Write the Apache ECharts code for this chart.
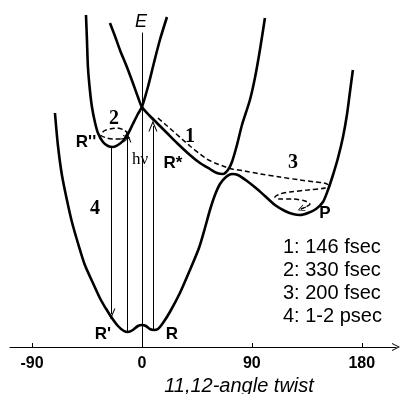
<!DOCTYPE html>
<html><head><meta charset="utf-8">
<script src="https://cdn.jsdelivr.net/npm/echarts@6/dist/echarts.min.js"></script>
<style>html,body{margin:0;padding:0;background:#fff}#c{width:401px;height:394px}</style>
</head><body><div id="c"></div>
<script>
// 11,12-angle twist (degrees) and energy (arbitrary units)
const groundAngle = [-71.2,-68.8,-65.5,-61.4,-57.3,-52.4,-46.7,-40.1,-33.6,-26.2,-19.6,-14.7,-11.5,-7.4,-3.3,0,3.3,6.5,9.8,13.1,17.2,22.9,31.1,39.3,46.7,51.6,55.7,59.8,63.9,68.8,73.7,78.6,86.0,93.3,100.7,108.9,117.1,123.6,129.4,135.9,142.5,148.2,152.3,156.4,160.5,164.6,167.8,170.3,172.7];
const groundEnergy = [234,202,172,147,125,104,82,64,47,32,21,16,15,17,21,22,21,18,17,18,24,35,54,77,99,119,137,152,163,170,173,172,166,159,151,142,136,133,132,134,138,145,157,172,189,210,232,255,277];
const excitedAAngle = [-26.2,-22.1,-18.0,-12.3,-7.4,-3.3,0,6.5,12.3,20.5,28.7,39.3,47.5,55.7,61.4,66.3,70.4,73.7,77.8,81.9,88.4,92.5,96.6,100.7];
const excitedAEnergy = [324,311,297,280,264,250,240,231,224,214,204,192,184,178,174,173,177,185,202,222,247,269,297,329];
const excitedBAngle = [-45.8,-45.0,-44.2,-42.6,-40.9,-38.5,-36.0,-31.9,-27.8,-23.7,-19.6,-15.6,-11.5,-7.4,-3.3,0,4.9,9.8,14.7,20.5];
const excitedBEnergy = [332,307,280,257,240,225,214,205,201,200,202,206,213,223,233,240,260,284,307,330];
const path13Angle = [13.1,18.8,25.4,32.7,39.3,47.5,53.2,59.8,66.3,73.7,84.3,96.6,113.0,129.4,141.6,149.0,152.3,149.8,135.9,121.2,113.0,108.9,113.0,123.6,133.4,137.5,134.3,130.2];
const path13Energy = [229,223,216,208,201,193,188,184,181,178,176,173,170,167,165,164,162,159,157,155,153,150,148,148,146,143,140,138];
const path2Angle = [-10.6,-14.7,-20.5,-26.2,-31.1,-33.6,-28.7,-22.9,-17.2,-12.3];
const path2Energy = [213,217,219,218,216,212,209,208,208,209];
const verticalAngle = [-25.4, -12.3, 9.0];
const verticalFrom = [200, 15, 17];
const verticalTo = [33, 210, 221];
const xTickValues = [-90, 0, 90, 180];
const xMinorTicks = [-90, 90, 180];
const legendLines = ['1: 146 fsec', '2: 330 fsec', '3: 200 fsec', '4: 1-2 psec'];

const zip = (a, b) => a.map((v, i) => [v, b[i]]);
const chevron = 'path://M5,0 L10,10 L8.8,10 L5,2.4 L1.2,10 L0,10 Z';
const SANS = '"Liberation Sans", Arial, sans-serif';
const SERIF = '"Liberation Serif", "Times New Roman", serif';

const solid = (name, a, e) => ({
  name, type: 'line', data: zip(a, e), showSymbol: false, symbol: 'none',
  smooth: 0.25, clip: false, silent: true,
  lineStyle: { color: '#000', width: 2.6 }
});
const dashed = (name, a, e) => ({
  name, type: 'line', data: zip(a, e), showSymbol: false, symbol: 'none',
  smooth: 0.3, clip: false, silent: true,
  lineStyle: { color: '#000', width: 1.5, type: [5, 3] },
  markLine: {
    silent: true, symbol: ['none', chevron], symbolSize: [7, 7],
    label: { show: false }, lineStyle: { color: '#000', width: 1.2, type: 'solid' },
    data: [[{ coord: [a[a.length - 2], e[e.length - 2]] }, { coord: [a[a.length - 1], e[e.length - 1]] }]]
  }
});

const chart = echarts.init(document.getElementById('c'), null, { renderer: 'canvas' });

const labels = [
  ['E', 141, 22, 'italic 18px ' + SANS],
  ['2', 114, 119, 'bold 20px ' + SERIF],
  ['1', 190, 137, 'bold 20px ' + SERIF],
  ['3', 293, 163, 'bold 20px ' + SERIF],
  ['4', 95, 209, 'bold 20px ' + SERIF],
  ["R''", 86, 142, 'bold 17px ' + SANS],
  ['R*', 173, 163, 'bold 17px ' + SANS],
  ['P', 325, 213, 'bold 17px ' + SANS],
  ["R'", 103, 334, 'bold 17px ' + SANS],
  ['R', 172, 334, 'bold 17px ' + SANS],
  ['hν', 140, 160, '17px ' + SERIF],
  ['11,12-angle twist', 239, 386, 'italic 20px ' + SANS]
];
const graphic = labels.map(([t, x, y, f]) => ({
  type: 'text', x, y, silent: true,
  style: { text: t, font: f, fill: '#000', align: 'center', verticalAlign: 'middle' }
}));
legendLines.forEach((t, i) => graphic.push({
  type: 'text', x: 283, y: 247 + i * 23.3, silent: true,
  style: { text: t, font: '20px ' + SANS, fill: '#000', align: 'left', verticalAlign: 'middle' }
}));

chart.setOption({
  animation: false,
  backgroundColor: '#fff',
  grid: { left: 10, right: 5, top: 33, bottom: 47 },
  xAxis: {
    type: 'value', min: -108, max: 208,
    axisLine: { lineStyle: { color: '#000', width: 1.2 }, symbol: ['none', chevron], symbolSize: [10, 8] },
    axisTick: { show: true, inside: true, length: 4, customValues: xMinorTicks, lineStyle: { color: '#000' } },
    axisLabel: { customValues: xTickValues, margin: 9, color: '#000', fontFamily: SANS, fontWeight: 'bold', fontSize: 16 },
    splitLine: { show: false }
  },
  yAxis: {
    type: 'value', min: 0, max: 314,
    axisLine: { show: true, onZero: true, lineStyle: { color: '#000', width: 1 } },
    axisTick: { show: false }, axisLabel: { show: false }, splitLine: { show: false }
  },
  graphic,
  series: [
    solid('ground', groundAngle, groundEnergy),
    solid('excitedA', excitedAAngle, excitedAEnergy),
    solid('excitedB', excitedBAngle, excitedBEnergy),
    dashed('path13', path13Angle, path13Energy),
    dashed('path2', path2Angle, path2Energy),
    {
      name: 'transitions', type: 'line', data: [], silent: true,
      markLine: {
        silent: true, symbol: ['none', chevron], symbolSize: [9, 11],
        label: { show: false }, lineStyle: { color: '#000', width: 1, type: 'solid' },
        data: verticalAngle.map((a, i) => [{ coord: [a, verticalFrom[i]] }, { coord: [a, verticalTo[i]] }])
      }
    }
  ]
});
</script>
</body></html>
